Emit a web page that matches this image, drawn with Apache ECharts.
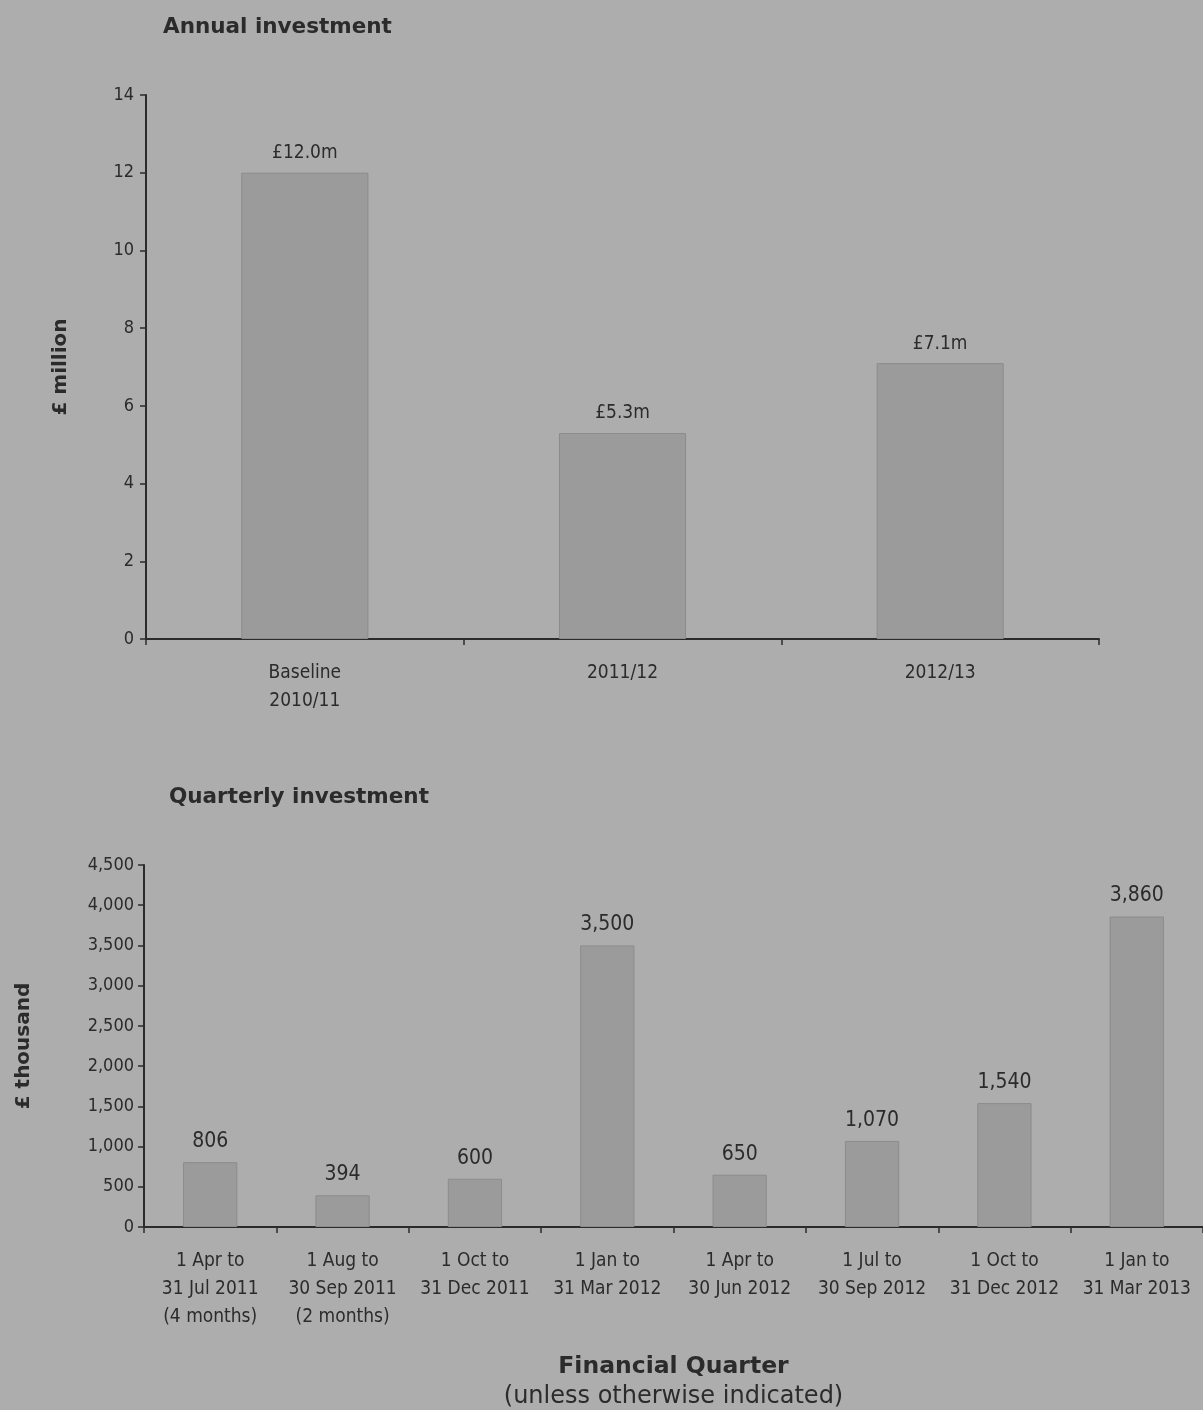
<!DOCTYPE html>
<html>
<head>
<meta charset="utf-8">
<script src="https://cdn.jsdelivr.net/npm/echarts@6/dist/echarts.min.js"></script>
<style>
  html, body { margin: 0; padding: 0; background: #adadad; }
  #main { width: 1203px; height: 1410px; }
</style>
</head>
<body>
<div id="main"></div>
<script>
// annual chart data (£ million)
const annualCats = ['Baseline\n2010/11', '2011/12', '2012/13'];
const annualVals = [12.0, 5.3, 7.1];

// quarterly chart data (£ thousand)
const quarterCats = [
  '1 Apr to\n31 Jul 2011\n(4 months)',
  '1 Aug to\n30 Sep 2011\n(2 months)',
  '1 Oct to\n31 Dec 2011',
  '1 Jan to\n31 Mar 2012',
  '1 Apr to\n30 Jun 2012',
  '1 Jul to\n30 Sep 2012',
  '1 Oct to\n31 Dec 2012',
  '1 Jan to\n31 Mar 2013'
];
const quarterVals = [806, 394, 600, 3500, 650, 1070, 1540, 3860];

const ink = '#2b2b2b';
const barFill = '#9b9b9b';
const barEdge = '#8c8c8c';
const narrow = "'Liberation Sans Narrow', 'DejaVu Sans Condensed', sans-serif";

function commas(v) {
  return String(v).replace(/\B(?=(\d{3})+(?!\d))/g, ',');
}

const axisLine = { lineStyle: { color: ink, width: 2 } };
const axisTick = { show: true, length: 6, lineStyle: { color: ink, width: 1.5 } };

var option = {
  backgroundColor: '#adadad',
  animation: false,
  title: [
    { text: 'Annual investment', left: 158, top: 11,
      textStyle: { fontFamily: 'DejaVu Sans', fontWeight: 'bold', fontSize: 21.5, color: ink } },
    { text: 'Quarterly investment', left: 164, top: 781,
      textStyle: { fontFamily: 'DejaVu Sans', fontWeight: 'bold', fontSize: 21.5, color: ink } }
  ],
  grid: [
    { left: 146, top: 95, width: 953, height: 544 },
    { left: 144, top: 865, width: 1069, height: 366 }
  ],
  xAxis: [
    {
      type: 'category', gridIndex: 0, data: annualCats,
      axisLine: axisLine, axisTick: axisTick,
      axisLabel: { interval: 0, color: ink, fontFamily: narrow, fontSize: 19, lineHeight: 28, margin: 20 }
    },
    {
      type: 'category', gridIndex: 1, data: quarterCats,
      axisLine: axisLine, axisTick: axisTick,
      axisLabel: { interval: 0, hideOverlap: false, color: ink, fontFamily: narrow, fontSize: 19, lineHeight: 28, margin: 20 },
      name: '{a|Financial Quarter}\n{b|(unless otherwise indicated)}',
      nameLocation: 'middle', nameGap: 125,
      nameTextStyle: {
        rich: {
          a: { fontFamily: 'DejaVu Sans', fontSize: 23.5, fontWeight: 'bold', color: ink, lineHeight: 30 },
          b: { fontFamily: 'DejaVu Sans', fontSize: 24, color: ink, lineHeight: 30 }
        }
      }
    }
  ],
  yAxis: [
    {
      type: 'value', gridIndex: 0, min: 0, max: 14, interval: 2,
      splitLine: { show: false },
      axisLine: { show: true, lineStyle: { color: ink, width: 2 } },
      axisTick: { show: true, length: 6, lineStyle: { color: ink, width: 1.5 } },
      axisLabel: { color: ink, fontFamily: narrow, fontSize: 18, margin: 12 },
      name: '£ million', nameLocation: 'middle', nameGap: 75, nameRotate: 90,
      nameTextStyle: { fontFamily: 'DejaVu Sans', fontWeight: 'bold', fontSize: 20, color: ink }
    },
    {
      type: 'value', gridIndex: 1, min: 0, max: 4500, interval: 500,
      splitLine: { show: false },
      axisLine: { show: true, lineStyle: { color: ink, width: 2 } },
      axisTick: { show: true, length: 6, lineStyle: { color: ink, width: 1.5 } },
      axisLabel: { color: ink, fontFamily: narrow, fontSize: 18, margin: 10, formatter: commas },
      name: '£ thousand', nameLocation: 'middle', nameGap: 110, nameRotate: 90,
      nameTextStyle: { fontFamily: 'DejaVu Sans', fontWeight: 'bold', fontSize: 20, color: ink }
    }
  ],
  series: [
    {
      type: 'bar', xAxisIndex: 0, yAxisIndex: 0, data: annualVals,
      barWidth: '40%',
      itemStyle: { color: barFill, borderColor: barEdge, borderWidth: 1 },
      label: {
        show: true, position: 'top', distance: 10, color: ink,
        fontFamily: narrow, fontSize: 19,
        formatter: p => '£' + p.value.toFixed(1) + 'm'
      }
    },
    {
      type: 'bar', xAxisIndex: 1, yAxisIndex: 1, data: quarterVals,
      barWidth: '41%',
      itemStyle: { color: barFill, borderColor: barEdge, borderWidth: 1 },
      label: {
        show: true, position: 'top', distance: 10, color: ink,
        fontFamily: narrow, fontSize: 21,
        formatter: p => commas(p.value)
      }
    }
  ]
};

var myChart = echarts.init(document.getElementById('main'));
myChart.setOption(option, true);
</script>
</body>
</html>
